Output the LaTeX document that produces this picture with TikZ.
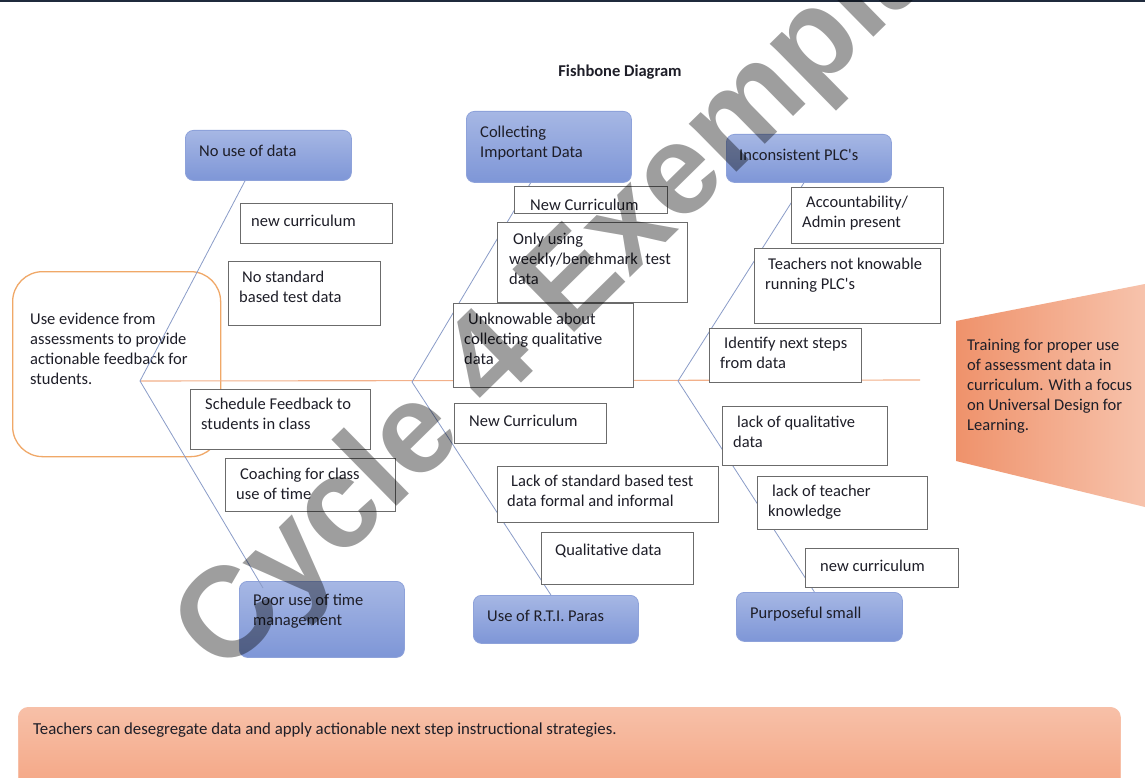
\documentclass[tikz,border=0pt]{standalone}
\usepackage{fontspec}
\setmainfont{Carlito}[Ligatures=TeXOff]
\newfontfamily\wmfont{Liberation Sans}
\usetikzlibrary{calc}
\definecolor{bluetop}{HTML}{A6B7E4}
\definecolor{bluebot}{HTML}{7E96D7}
\definecolor{blueedge}{HTML}{8EA2DA}
\definecolor{ribc}{HTML}{8A9CC8}
\definecolor{spinec}{HTML}{F2B08A}
\definecolor{orangeedge}{HTML}{F0A868}
\definecolor{greyedge}{HTML}{6B6B6B}
\definecolor{txtc}{HTML}{1E1E28}
\definecolor{salmontop}{HTML}{F7C0A8}
\definecolor{salmonbot}{HTML}{F4A583}
\definecolor{trapl}{HTML}{EF926B}
\definecolor{trapr}{HTML}{F7C3AC}
\definecolor{topband}{HTML}{1F2A3C}
\tikzset{
  headbox/.style={rounded corners=8, draw=blueedge, line width=0.8, top color=bluetop, bottom color=bluebot, anchor=north west, inner sep=0},
  wbox/.style={draw=greyedge, line width=1, fill=white, anchor=north west, inner sep=0},
  txt/.style={font=\fontsize{16.5}{20}\selectfont, text=txtc, align=left, anchor=north west, inner sep=0, yshift=-3pt, execute at begin node={\strut}},
  rib/.style={draw=ribc, line width=0.8},
  spine/.style={draw=spinec, line width=1.1},
}
\begin{document}
\begin{tikzpicture}[x=1pt,y=-1pt]
\useasboundingbox (0,0) rectangle (1145,778);
\fill[white] (0,0) rectangle (1145,778);
\fill[topband] (0,0) rectangle (1145,2.5);

% title
\node[font=\fontsize{16.5}{20}\selectfont\bfseries, text=txtc, inner sep=0] (title) at (620,72) {Fishbone Diagram};

% problem (effect) box on left
\node[draw=orangeedge, line width=1.3, rounded corners=30, fill=white, anchor=north west, minimum width=208, minimum height=185, inner sep=0] (effect) at (12,271) {};
\node[txt] (effect-t) at (30,310) {Use evidence from\\assessments to provide\\actionable feedback for\\students.};

% spine vertices
\coordinate (v1) at (140,381);
\coordinate (v2) at (412,382);
\coordinate (v3) at (678,381);
\coordinate (spineend) at (920,380);

% head boxes
\node[headbox, minimum width=166, minimum height=50] (nud) at (185,130) {};
\node[headbox, minimum width=165, minimum height=71] (cid) at (466,111) {};
\node[headbox, minimum width=165, minimum height=48] (iplc) at (726,134) {};
\node[headbox, minimum width=165, minimum height=76] (poor) at (239,581) {};
\node[headbox, minimum width=165, minimum height=48] (rti) at (473,595) {};
\node[headbox, minimum width=166, minimum height=49] (purp) at (736,592) {};

% spine and ribs
\draw[spine] (v1) -- (spineend);
\draw[rib] (v1) -- ($(nud.south west)!0.36!(nud.south east)$);
\draw[rib] (v1) -- ($(poor.north west)+(24,7)$);
\draw[rib] (v2) -- ($(cid.south west)!0.39!(cid.south east)$);
\draw[rib] (v2) -- ($(rti.north west)!0.47!(rti.north east)$);
\draw[rib] (v3) -- ($(iplc.south west)!0.47!(iplc.south east)$);
\draw[rib] (v3) -- ($(purp.north west)!0.47!(purp.north east)$);

% head texts
\node[txt] (nud-t) at (199,139) {No use of data};
\node[txt] (cid-t) at (480,123) {Collecting\\Important Data};
\node[txt] (iplc-t) at (739,143) {Inconsistent PLC's};
\node[txt] (poor-t) at (253,591) {Poor use of time\\management};
\node[txt] (rti-t) at (487,604) {Use of R.T.I. Paras};
\node[txt] (purp-t) at (750,601) {Purposeful small};

% left rib causes
\node[wbox, minimum width=152, minimum height=40] (c1) at (240,203) {};
\node[txt] (c1-t) at (251,209) {new curriculum};
\node[wbox, minimum width=152, minimum height=64] (c2) at (228,261) {};
\node[txt] (c2-t) at (239,268) {\hspace{3pt}No standard\\based test data};
\node[wbox, minimum width=180, minimum height=60] (c3) at (190,389) {};
\node[txt] (c3-t) at (201,395) {\hspace{4pt}Schedule Feedback to\\students in class};
\node[wbox, minimum width=170, minimum height=53] (c4) at (225,458) {};
\node[txt] (c4-t) at (236,465) {\hspace{4pt}Coaching for class\\use of time};

% middle rib causes
\node[wbox, minimum width=153, minimum height=27] (m1) at (514,186) {};
\node[txt] (m1-t) at (530,193) {New Curriculum};
\node[wbox, minimum width=190, minimum height=80] (m2) at (497,222) {};
\node[txt] (m2-t) at (509,230) {\hspace{4pt}Only using\\weekly/benchmark\ \ test\\data};
\node[wbox, minimum width=180, minimum height=84] (m3) at (453,303) {};
\node[txt] (m3-t) at (464,310) {\hspace{4pt}Unknowable about\\collecting qualitative\\data};
\node[wbox, minimum width=152, minimum height=40] (m4) at (454,403) {};
\node[txt] (m4-t) at (469,409) {New Curriculum};
\node[wbox, minimum width=221, minimum height=56] (m5) at (497,466) {};
\node[txt] (m5-t) at (507,472) {\hspace{4pt}Lack of standard based test\\data formal and informal};
\node[wbox, minimum width=152, minimum height=52] (m6) at (541,532) {};
\node[txt] (m6-t) at (555,538) {Qualitative data};

% right rib causes
\node[wbox, minimum width=152, minimum height=56] (r1) at (791,187) {};
\node[txt] (r1-t) at (802,193) {\hspace{4pt}Accountability/\\Admin present};
\node[wbox, minimum width=186, minimum height=75] (r2) at (754,248) {};
\node[txt] (r2-t) at (765,255) {\hspace{3pt}Teachers not knowable\\running PLC's};
\node[wbox, minimum width=152, minimum height=54] (r3) at (709,328) {};
\node[txt] (r3-t) at (720,334) {\hspace{4pt}Identify next steps\\from data};
\node[wbox, minimum width=165, minimum height=59] (r4) at (722,406) {};
\node[txt] (r4-t) at (733,413) {\hspace{4pt}lack of qualitative\\data};
\node[wbox, minimum width=170, minimum height=53] (r5) at (757,476) {};
\node[txt] (r5-t) at (768,482) {\hspace{4pt}lack of teacher\\knowledge};
\node[wbox, minimum width=153, minimum height=39] (r6) at (805,548) {};
\node[txt] (r6-t) at (820,554) {new curriculum};

% right trapezoid (solution)
\shade[left color=trapl, right color=trapr] (956,321) -- (1145,284) -- (1145,507) -- (956,461) -- cycle;
\node[txt] (sol-t) at (967,336) {Training for proper use\\of assessment data in\\curriculum. With a focus\\on Universal Design for\\Learning.};

% bottom banner
\node[rounded corners=10, draw=salmontop, line width=0.8, top color=salmontop, bottom color=salmonbot, anchor=north west, minimum width=1102, minimum height=85, inner sep=0] (banner) at (18,707) {};
\node[txt, font=\fontsize{16.8}{20}\selectfont] (banner-t) at (33,717) {Teachers can desegregate data and apply actionable next step instructional strategies.};

% watermark
\node[font=\wmfont\bfseries\fontsize{128}{134}\selectfont, text=black, text opacity=0.38, rotate=44.5, inner sep=0] (wm) at (578,282) {Cycle 4 Exemplar};
\end{tikzpicture}
\end{document}
